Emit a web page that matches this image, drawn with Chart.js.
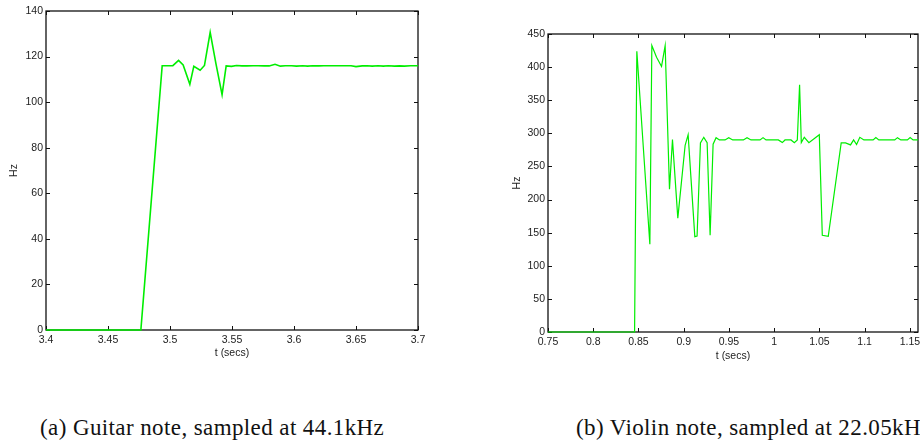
<!DOCTYPE html>
<html>
<head>
<meta charset="utf-8">
<script src="https://cdn.jsdelivr.net/npm/chart.js@4/dist/chart.umd.min.js"></script>
<style>
    html, body {
        margin: 0;
        padding: 0;
        width: 920px;
        height: 445px;
        overflow: hidden;
        background: #ffffff;
    }
    #guitarChart {
        position: absolute;
        left: 0;
        top: 0;
    }
    #violinChart {
        position: absolute;
        left: 460px;
        top: 0;
    }
    .caption {
        position: absolute;
        top: 416px;
        line-height: 24px;
        font-family: "Liberation Serif", "DejaVu Serif", serif;
        font-size: 23px;
        letter-spacing: 0.4px;
        color: #111;
        white-space: nowrap;
    }
</style>
</head>
<body>

<canvas id="guitarChart" width="460" height="359"></canvas>
<canvas id="violinChart" width="500" height="362"></canvas>

<div class="caption" id="captionA" style="left:40px;"></div>
<div class="caption" id="captionB" style="left:576px;"></div>

<script>

/* =========================
   DATA
========================= */

const guitarTimes = [
    3.400, 3.4765, 3.4937, 3.5023, 3.5069, 3.5106, 3.5160, 3.5192,
    3.5243, 3.5278, 3.5324, 3.5370, 3.5420, 3.5453, 3.5496, 3.5536,
    3.5580, 3.5620, 3.5670, 3.5710, 3.5760, 3.5800, 3.5847, 3.5890,
    3.5930, 3.5980, 3.6020, 3.6070, 3.6110, 3.6150, 3.6200, 3.6240,
    3.6290, 3.6330, 3.6370, 3.6420, 3.6460, 3.6500, 3.6550, 3.6590,
    3.6630, 3.6680, 3.6720, 3.6760, 3.6810, 3.6850, 3.6890, 3.6940,
    3.7000
];

const guitarHz = [
    0, 0, 116, 116, 118.3, 116.3, 107.8, 115.7,
    114, 116.1, 130.6, 117, 103.3, 115.9, 115.7, 116.1,
    115.9, 115.9, 116.0, 116.0, 115.9, 115.9, 116.6, 115.8,
    116.0, 116.0, 115.8, 116.0, 115.8, 116.0, 115.9, 116.0,
    116.0, 116.0, 116.0, 116.0, 116.0, 115.6, 115.9, 116.0,
    115.8, 116.0, 115.8, 116.0, 115.8, 115.9, 115.8, 116.0,
    116.0
];

const guitarTicksX = [3.4, 3.45, 3.5, 3.55, 3.6, 3.65, 3.7];
const guitarTicksY = [0, 20, 40, 60, 80, 100, 120, 140];

const violinTimes = [
    0.750, 0.8457, 0.8482, 0.8626, 0.8648, 0.8700, 0.8755, 0.8795,
    0.8843, 0.8876, 0.8935, 0.9016, 0.9049, 0.9123, 0.9148, 0.9185,
    0.9222, 0.9259, 0.9292, 0.9325, 0.9358, 0.9395, 0.9457, 0.9498,
    0.9542, 0.9660, 0.9700, 0.9744, 0.9844, 0.9877, 0.9910, 1.0046,
    1.0090, 1.0120, 1.0186, 1.0223, 1.0256, 1.0281, 1.0300, 1.0333,
    1.0384, 1.0499, 1.0532, 1.0598, 1.0741, 1.0789, 1.0844, 1.0878,
    1.0911, 1.0947, 1.0992, 1.1094, 1.1124, 1.1157, 1.1333, 1.1363,
    1.1400, 1.1473, 1.1503, 1.1536, 1.1590
];

const violinHz = [
    0, 0, 424, 132.5, 432.5, 415, 401, 432.5,
    215.7, 290.5, 172, 282, 298, 144, 145, 285.5,
    294, 286, 146, 283.5, 293.5, 290, 290, 293.5,
    290, 290, 293.5, 290, 290, 293.5, 290, 290,
    286, 290, 290, 286, 290, 373.3, 286, 294,
    286, 298, 146, 144.5, 285.5, 285.5, 282.5, 290,
    283, 294, 290, 290, 293.5, 290, 290, 293.5,
    290, 290, 293.5, 290, 290
];

const violinTicksX = [0.75, 0.8, 0.85, 0.9, 0.95, 1, 1.05, 1.1, 1.15];
const violinTicksY = [0, 50, 100, 150, 200, 250, 300, 350, 400, 450];

const captionGuitar = "(a) Guitar note, sampled at 44.1kHz";
const captionViolin = "(b) Violin note, sampled at 22.05kHz";

/* =========================
   FRAME + INWARD TICKS
========================= */

const frameTicks = {

    id: "frameTicks",

    beforeDatasetsDraw(chart) {

        const ctx = chart.ctx;
        const area = chart.chartArea;
        const x = chart.scales.x;
        const y = chart.scales.y;
        const len = 4;

        ctx.save();

        ctx.strokeStyle = "#111";
        ctx.lineWidth = 1;

        ctx.beginPath();

        x.ticks.forEach(t => {
            const px = Math.round(x.getPixelForValue(t.value)) + 0.5;
            ctx.moveTo(px, area.bottom);
            ctx.lineTo(px, area.bottom - len);
            ctx.moveTo(px, area.top);
            ctx.lineTo(px, area.top + len);
        });

        y.ticks.forEach(t => {
            const py = Math.round(y.getPixelForValue(t.value)) + 0.5;
            ctx.moveTo(area.left, py);
            ctx.lineTo(area.left + len, py);
            ctx.moveTo(area.right, py);
            ctx.lineTo(area.right - len, py);
        });

        ctx.stroke();

        ctx.lineWidth = 1.3;
        ctx.strokeRect(area.left, area.top, area.width, area.height);

        ctx.restore();

    }

};

/* =========================
   CHART BUILDER
========================= */

function makeChart(id, times, values, ticksX, ticksY, xMax, lineWidth, opts) {

    const points = times.map((t, i) => ({ x: t, y: values[i] }));

    return new Chart(document.getElementById(id), {

        type: "line",

        data: {
            datasets: [{
                data: points,
                borderColor: "#00ee00",
                borderWidth: lineWidth,
                pointRadius: 0,
                tension: 0,
                fill: false,
                clip: 3
            }]
        },

        plugins: [frameTicks],

        options: {

            responsive: false,
            animation: false,
            devicePixelRatio: 1,

            layout: {
                padding: opts.padding
            },

            plugins: {
                legend: { display: false },
                tooltip: { enabled: false }
            },

            scales: {

                x: {
                    type: "linear",
                    min: ticksX[0],
                    max: xMax,
                    afterBuildTicks: scale => {
                        scale.ticks = ticksX.map(v => ({ value: v }));
                    },
                    afterFit: scale => {
                        scale.height = opts.xHeight;
                    },
                    grid: { display: false, drawTicks: false },
                    border: { display: false },
                    ticks: {
                        color: "#222",
                        padding: 4,
                        maxRotation: 0,
                        autoSkip: false,
                        font: { family: "Liberation Sans", size: 10.5 },
                        callback: v => String(v)
                    },
                    title: {
                        display: true,
                        text: "t (secs)",
                        color: "#222",
                        padding: { top: 0, bottom: 0 },
                        font: { family: "Liberation Sans", size: 10.5 }
                    }
                },

                y: {
                    min: ticksY[0],
                    max: ticksY[ticksY.length - 1],
                    afterBuildTicks: scale => {
                        scale.ticks = ticksY.map(v => ({ value: v }));
                    },
                    afterFit: scale => {
                        scale.width = opts.yWidth;
                    },
                    grid: { display: false, drawTicks: false },
                    border: { display: false },
                    ticks: {
                        color: "#222",
                        padding: 3,
                        autoSkip: false,
                        font: { family: "Liberation Sans", size: 10.5 },
                        callback: v => String(v)
                    },
                    title: {
                        display: true,
                        text: "Hz",
                        color: "#222",
                        padding: { top: 8, bottom: 0 },
                        font: { family: "Liberation Sans", size: 10.5 }
                    }
                }

            }

        }

    });

}

/* =========================
   DRAW
========================= */

makeChart(
    "guitarChart",
    guitarTimes, guitarHz,
    guitarTicksX, guitarTicksY,
    3.7, 1.6,
    { padding: { top: 11, right: 42, left: 0, bottom: 0 }, xHeight: 29, yWidth: 46 }
);

makeChart(
    "violinChart",
    violinTimes, violinHz,
    violinTicksX, violinTicksY,
    1.159, 1.2,
    { padding: { top: 34, right: 42, left: 43, bottom: 0 }, xHeight: 30, yWidth: 45 }
);

document.getElementById("captionA").textContent = captionGuitar;
document.getElementById("captionB").textContent = captionViolin;

</script>
</body>
</html>
